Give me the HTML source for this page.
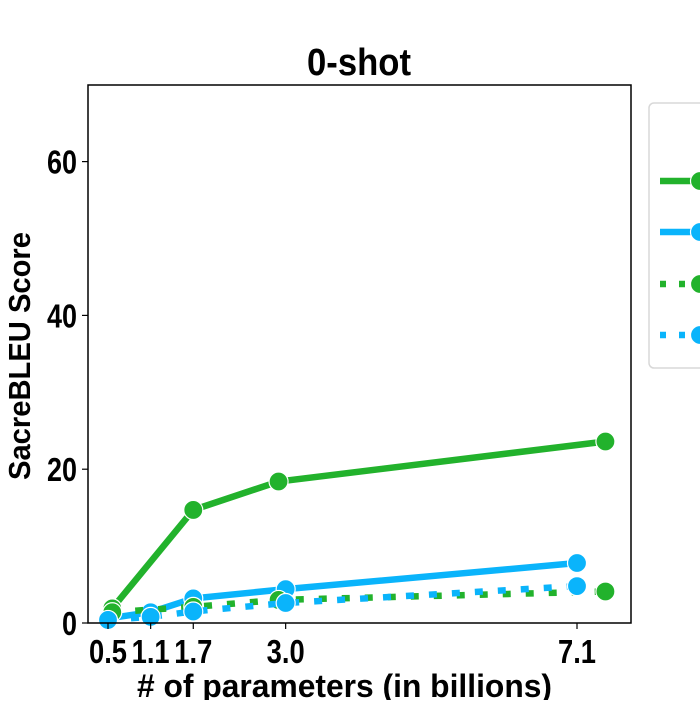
<!DOCTYPE html>
<html><head><meta charset="utf-8"><style>
body{margin:0;background:#fff;}
svg text{font-family:"Liberation Sans Narrow","Liberation Sans",sans-serif;font-weight:bold;fill:#000;}
</style></head><body>
<svg id="chart" width="700" height="700" xmlns="http://www.w3.org/2000/svg">
<text x="307" y="75" font-size="38" textLength="104" lengthAdjust="spacingAndGlyphs">0-shot</text>
<g id="plot"></g>
<rect x="88" y="85" width="543" height="538" fill="none" stroke="#000" stroke-width="1.5"/>
<text transform="translate(30,480) rotate(-90)" font-size="31" textLength="248" lengthAdjust="spacingAndGlyphs">SacreBLEU Score</text>
<text x="137" y="697" font-size="32" textLength="415" lengthAdjust="spacingAndGlyphs"># of parameters (in billions)</text>
<g>
<rect x="649" y="103" width="70" height="265" rx="5" fill="#fff" stroke="#d8d8d8" stroke-width="1.5"/>
<g id="legend-items"></g>
</g>
</svg>
<script>
const xTicks = [0.5, 1.1, 1.7, 3.0, 7.1];
const xTickLabels = ["0.5", "1.1", "1.7", "3.0", "7.1"];
const yTicks = [0, 20, 40, 60];
const greenX = [0.56, 1.7, 2.9, 7.5];
const blueX = [0.5, 1.1, 1.7, 3.0, 7.1];
const greenSolid = [1.9, 14.7, 18.4, 23.6];
const blueSolid = [0.6, 1.4, 3.2, 4.4, 7.8];
const greenDotted = [1.4, 2.1, 3.0, 4.1];
const blueDotted = [0.4, 0.8, 1.5, 2.6, 4.8];
const GREEN = "#22b22c", BLUE = "#0ab4fb";
const NS = "http://www.w3.org/2000/svg";
function xs(v){return 108 + (v-0.5)*(577-108)/(7.1-0.5);}
function ys(v){return 623 - v*7.69;}
const svg = document.getElementById("chart");
const plot = document.getElementById("plot");
function mk(tag, attrs, parent){const e=document.createElementNS(NS,tag);for(const k in attrs)e.setAttribute(k,attrs[k]);(parent||plot).appendChild(e);return e;}
xTicks.forEach((t,i)=>{
  const l = mk("line",{x1:xs(t),x2:xs(t),y1:623,y2:629,stroke:"#000","stroke-width":1.2},svg);
  
  
  const tx = mk("text",{x:xs(t)-19,y:663,"font-size":33,textLength:38,lengthAdjust:"spacingAndGlyphs"},svg);
  
  
  tx.textContent = xTickLabels[i];
});
yTicks.forEach(t=>{
  const l = mk("line",{x1:82,x2:88,y1:ys(t),y2:ys(t),stroke:"#000","stroke-width":1.2},svg);
  
  
  const w = String(t).length*15;
  const tx = mk("text",{x:77-w,y:ys(t)+12,"font-size":33,textLength:w,lengthAdjust:"spacingAndGlyphs"},svg);
  
  
  tx.textContent = t;
});
function series(xv, yv, color, dashed, name){
  const g = mk("g",{});
  
  
  const pts = xv.map((x,i)=>xs(x)+","+ys(yv[i])).join(" ");
  const pl = mk("polyline",{points:pts,fill:"none",stroke:color,"stroke-width":6.5,"stroke-dasharray":dashed?"8,15":"none"},g);
  
  
  xv.forEach((x,i)=>{
    const c = mk("circle",{cx:xs(x),cy:ys(yv[i]),r:9.5,fill:color,stroke:"#fff","stroke-width":1.2},g);
    
    
  });
}
series(greenX, greenSolid, GREEN, false, "green-solid-series");
series(blueX, blueSolid, BLUE, false, "blue-solid-series");
series(greenX, greenDotted, GREEN, true, "green-dotted-series");
series(blueX, blueDotted, BLUE, true, "blue-dotted-series");
const leg = document.getElementById("legend-items");
[[GREEN,false,181],[BLUE,false,232],[GREEN,true,284],[BLUE,true,335]].forEach(([c,d,y])=>{
  const g = mk("g",{},leg);
  
  
  mk("line",{x1:660,x2:695,y1:y,y2:y,stroke:c,"stroke-width":6.5,"stroke-dasharray":d?"6,13":"none"},g);
  mk("circle",{cx:700,cy:y,r:9.5,fill:c,stroke:"#fff","stroke-width":1.2},g);
});
</script>
</body></html>
